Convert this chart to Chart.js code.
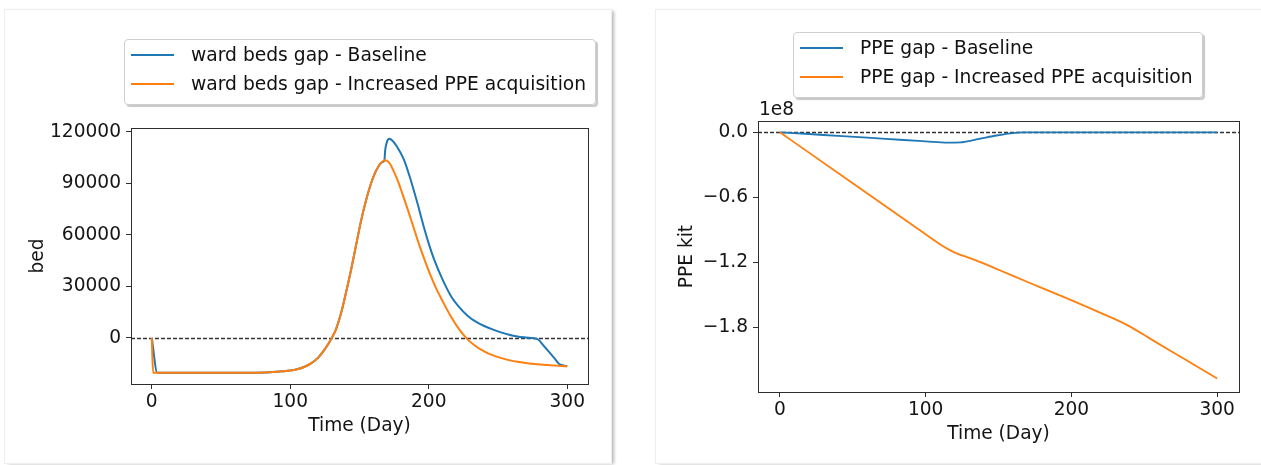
<!DOCTYPE html>
<html>
<head>
<meta charset="utf-8">
<script src="https://cdn.jsdelivr.net/npm/chart.js@4.4.0/dist/chart.umd.min.js"></script>
<style>
  html, body { margin: 0; padding: 0; background: #fff; }
  body { width: 1261px; height: 465px; position: relative; overflow: hidden; font-family: 'DejaVu Sans', sans-serif; }
  .card { position: absolute; top: 10px; height: 453px; background: #fff; box-shadow: 0 0 0 1px #eeeeee, 3px 1px 3px rgba(0,0,0,0.28); }
  #card-beds { left: 5px; width: 606px; }
  #card-ppe { left: 656px; width: 620px; }
  .card canvas { position: absolute; left: 0; top: 0; }
  .legend { position: absolute; background: rgba(255,255,255,0.92); border: 1px solid #cfcfcf; border-radius: 4px;
            box-shadow: 2px 2px 1px rgba(0,0,0,0.22); padding: 0 9px 6px 6px; font-size: 18.7px; color: #111; white-space: nowrap; }
  .legend .row { height: 29px; display: flex; align-items: center; }
  .legend .swatch { width: 43px; height: 2px; margin-right: 17px; }
  #legend-beds { left: 119px; top: 29px; }
  #legend-ppe { left: 137px; top: 22px; }
</style>
</head>
<body>
<div class="card" id="card-beds">
  <canvas id="bedsChart" width="606" height="453"></canvas>
  <div class="legend" id="legend-beds"></div>
</div>
<div class="card" id="card-ppe">
  <canvas id="ppeChart" width="605" height="453"></canvas>
  <div class="legend" id="legend-ppe"></div>
</div>
<script>
const dayTicks = [0, 100, 200, 300];
const bedTicks = [0, 30000, 60000, 90000, 120000];
const ppeTicks = [0, -0.6e8, -1.2e8, -1.8e8];
const gapThreshold = 0;

// ward beds gap, baseline
const bedDaysBaseline = [0, 4, 20, 50, 70, 85, 95, 100, 105, 110, 115, 120, 125, 130, 133, 136.7, 140, 144, 147.5, 151,
  154.5, 158, 161, 164, 166, 168, 168.5, 169.5, 171.5, 174, 177, 182, 187, 192, 196, 200, 204, 210, 216, 222,
  228, 234, 240, 246, 252, 258, 264, 270, 276, 279, 283, 287, 291, 294, 297, 300];
const bedGapBaseline = [0, -20300, -20300, -20300, -20200, -19900, -19400, -19000, -18200, -16900, -14800, -11600, -6500, 0, 5000, 14500, 25500, 40000, 54000, 67800,
  79500, 89300, 95800, 100300, 102300, 103500, 109000, 113500, 116000, 114800, 111500, 104000, 92000, 78000, 66000, 55000, 45500, 34000, 24500, 18000,
  13000, 9500, 7000, 5000, 3300, 1900, 900, 300, -200, -900, -4500, -8200, -12000, -15000, -16000, -16400];

// ward beds gap, increased PPE acquisition
const bedDaysIncreased = [0, 1, 20, 50, 70, 85, 95, 100, 105, 110, 115, 120, 125, 130, 133, 136.7, 140, 144, 147.5, 151,
  154.5, 158, 161, 164, 166, 168, 170, 172, 174.5, 177.5, 181, 185, 189, 193, 197, 201, 205, 210, 216, 222,
  228, 234, 240, 246, 252, 258, 264, 270, 276, 288, 300];
const bedGapIncreased = [0, -20300, -20300, -20300, -20200, -19900, -19400, -19000, -18200, -16900, -14800, -11600, -6500, 0, 5000, 14500, 25500, 40000, 54000, 67800,
  79500, 89300, 95800, 100300, 102300, 103500, 103200, 101500, 97500, 92000, 84000, 74500, 64500, 54500, 45500, 37000, 29500, 21500, 12500, 5000,
  -800, -4800, -7800, -10000, -11600, -12900, -13900, -14600, -15100, -15900, -16400];

// PPE gap, baseline
const ppeDaysBaseline = [0, 20, 40, 60, 85, 100, 115, 124, 133, 142, 150, 158, 167, 200, 250, 300];
const ppeGapBaseline = [0, -0.016e8, -0.034e8, -0.05e8, -0.071e8, -0.083e8, -0.095e8, -0.093e8, -0.072e8, -0.046e8, -0.027e8, -0.01e8, 0, 0, 0, 0];

// PPE gap, increased PPE acquisition
const ppeDaysIncreased = [0, 50, 100, 112, 118, 123, 128, 135, 150, 170, 195, 220, 238, 254, 277, 300];
const ppeGapIncreased = [0, -0.47e8, -0.94e8, -1.05e8, -1.095e8, -1.125e8, -1.148e8, -1.183e8, -1.267e8, -1.38e8,
  -1.52e8, -1.665e8, -1.775e8, -1.902e8, -2.086e8, -2.27e8];

const blue = '#1f77b4';
const orange = '#ff7f0e';
const axisColor = '#2e2e2e';
const textColor = '#151515';

Chart.defaults.font.family = "'DejaVu Sans', sans-serif";
Chart.defaults.font.size = 18.6;
Chart.defaults.color = textColor;

const toPoints = (days, vals) => days.map((d, i) => ({ x: d, y: vals[i] }));

// full box round the plot area, like matplotlib spines
const framePlugin = {
  id: 'frame',
  afterDatasetsDraw(chart) {
    const { ctx, chartArea: a } = chart;
    ctx.save();
    ctx.strokeStyle = axisColor;
    ctx.lineWidth = 1;
    ctx.strokeRect(Math.round(a.left) + 0.5, Math.round(a.top) + 0.5, Math.round(a.width), Math.round(a.height));
    ctx.restore();
  }
};

const zeroLinePlugin = {
  id: 'zeroLine',
  beforeDatasetsDraw(chart) {
    const { ctx, chartArea: a } = chart;
    const y = Math.round(chart.scales.y.getPixelForValue(gapThreshold)) + 0.5;
    ctx.save();
    ctx.strokeStyle = '#333';
    ctx.lineWidth = 1.3;
    ctx.setLineDash([4, 2]);
    ctx.beginPath();
    ctx.moveTo(a.left, y);
    ctx.lineTo(a.right, y);
    ctx.stroke();
    ctx.restore();
  }
};

function gapChart(canvasId, cfg) {
  return new Chart(document.getElementById(canvasId), {
    type: 'line',
    data: { datasets: cfg.datasets },
    options: {
      responsive: false,
      animation: false,
      layout: { padding: cfg.padding },
      plugins: { legend: { display: false }, tooltip: { enabled: false } },
      elements: {
        point: { radius: 0 },
        line: { borderWidth: cfg.lineWidth, cubicInterpolationMode: 'monotone' }
      },
      scales: {
        x: {
          type: 'linear',
          min: -15,
          max: 315,
          afterFit: (s) => { s.height = cfg.xHeight; },
          afterBuildTicks: (s) => { s.ticks = dayTicks.map(v => ({ value: v })); },
          grid: { drawOnChartArea: false, tickLength: 5, color: axisColor },
          border: { display: false },
          ticks: { padding: 2, maxRotation: 0, callback: v => String(v) },
          title: { display: true, text: 'Time (Day)', padding: { top: 0, bottom: cfg.xTitlePad } }
        },
        y: {
          type: 'linear',
          min: cfg.yMin,
          max: cfg.yMax,
          afterFit: (s) => { s.width = cfg.yWidth; },
          afterBuildTicks: (s) => { s.ticks = cfg.yTicks.map(v => ({ value: v })); },
          grid: { drawOnChartArea: false, tickLength: 5, color: axisColor },
          border: { display: false },
          ticks: { padding: 5, callback: cfg.yFormat },
          title: { display: true, text: cfg.yTitle, padding: { top: cfg.yTitlePad, bottom: 0 } }
        }
      }
    },
    plugins: [zeroLinePlugin, framePlugin].concat(cfg.extraPlugins || [])
  });
}

function buildLegend(chart, elId) {
  const el = document.getElementById(elId);
  el.innerHTML = '';
  chart.data.datasets.forEach(ds => {
    const row = document.createElement('div');
    row.className = 'row';
    row.innerHTML = `<span class="swatch" style="background:${ds.borderColor}"></span><span>${ds.label}</span>`;
    el.appendChild(row);
  });
}

const bedsChart = gapChart('bedsChart', {
  datasets: [
    { label: 'ward beds gap - Baseline', data: toPoints(bedDaysBaseline, bedGapBaseline), borderColor: blue, order: 1 },
    { label: 'ward beds gap - Increased PPE acquisition', data: toPoints(bedDaysIncreased, bedGapIncreased), borderColor: orange, order: 0 }
  ],
  lineWidth: 2,
  padding: { left: 0, right: 23, top: 118, bottom: 0 },
  yWidth: 126,
  xHeight: 79,
  xTitlePad: 26,
  yTitle: 'bed',
  yTitlePad: 22,
  yMin: -26800,
  yMax: 122330,
  yTicks: bedTicks,
  yFormat: v => String(v)
});
buildLegend(bedsChart, 'legend-beds');

const offsetTextPlugin = {
  id: 'offsetText',
  afterDraw(chart) {
    const { ctx, chartArea: a } = chart;
    ctx.save();
    ctx.font = "18.6px 'DejaVu Sans', sans-serif";
    ctx.fillStyle = textColor;
    ctx.textAlign = 'left';
    ctx.textBaseline = 'middle';
    ctx.fillText('1e8', a.left + 1, a.top - 11);
    ctx.restore();
  }
};

const ppeChart = gapChart('ppeChart', {
  datasets: [
    { label: 'PPE gap - Baseline', data: toPoints(ppeDaysBaseline, ppeGapBaseline), borderColor: blue, order: 1 },
    { label: 'PPE gap - Increased PPE acquisition', data: toPoints(ppeDaysIncreased, ppeGapIncreased), borderColor: orange, order: 0 }
  ],
  lineWidth: 1.8,
  padding: { left: 0, right: 22, top: 111, bottom: 0 },
  yWidth: 102,
  xHeight: 71,
  xTitlePad: 18,
  yTitle: 'PPE kit',
  yTitlePad: 20,
  yMin: -2.394e8,
  yMax: 0.104e8,
  yTicks: ppeTicks,
  yFormat: v => (v / 1e8).toFixed(1).replace('-', '\u2212'),
  extraPlugins: [offsetTextPlugin]
});
buildLegend(ppeChart, 'legend-ppe');
</script>
</body>
</html>
